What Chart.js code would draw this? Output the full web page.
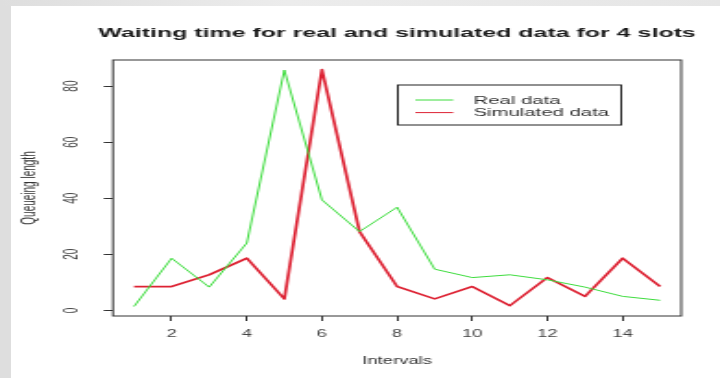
<!DOCTYPE html>
<html>
<head>
<meta charset="utf-8">
<script src="https://cdn.jsdelivr.net/npm/chart.js@4"></script>
<style>
  html, body { margin: 0; background: #fff; overflow: hidden; }
  body { width: 720px; height: 378px; position: relative; }
  #edgeLeft { position: absolute; left: 0; top: 0; width: 11px; height: 378px; background: #dedede; }
  #edgeTop { position: absolute; left: 0; top: 0; width: 720px; height: 6px; background: linear-gradient(90deg, #dedede, #ececec 40%, #e6e6e6); }
  /* the source plot is stretched sideways, so draw narrow and scale it out */
  #wrap { position: absolute; left: 0; top: 0; width: 390px; height: 378px; transform: scaleX(1.84615); transform-origin: 0 0; }
</style>
</head>
<body>
<div id="edgeLeft"></div>
<div id="edgeTop"></div>
<div id="wrap"><canvas id="waitChart" width="390" height="378" style="width:390px;height:378px"></canvas></div>
<script>
// Data
const intervals = [1, 2, 3, 4, 5, 6, 7, 8, 9, 10, 11, 12, 13, 14, 15];
const realData = [1.4, 18.6, 8.3, 24, 85.7, 39.4, 28.1, 36.8, 14.7, 11.7, 12.7, 10.9, 8.3, 5, 3.6];
const simulatedData = [8.5, 8.5, 12.7, 18.6, 4.1, 85.9, 28.1, 8.5, 4.1, 8.5, 1.7, 11.7, 5, 18.6, 8.5];
const xTicks = [2, 4, 6, 8, 10, 12, 14];
const yTicks = [0, 20, 40, 60, 80];

const titleText = 'Waiting time for real and simulated data for 4 slots';
const fontFamily = '"Liberation Sans", Arial, sans-serif';

// Title centred over the plot box, like base R
const titlePlugin = {
    id: 'rTitle',
    afterDraw(chart) {
        const { ctx, chartArea } = chart;
        ctx.save();
        ctx.font = 'bold 13.5px ' + fontFamily;
        ctx.fillStyle = '#1a1a1a';
        ctx.textAlign = 'center';
        ctx.textBaseline = 'middle';
        ctx.fillText(titleText, (chartArea.left + chartArea.right) / 2, 33);
        ctx.restore();
    }
};

// Box round the plot region
const boxPlugin = {
    id: 'rBox',
    afterDatasetsDraw(chart) {
        const { ctx, chartArea } = chart;
        ctx.save();
        ctx.strokeStyle = '#333';
        ctx.lineWidth = 1;
        ctx.strokeRect(chartArea.left, chartArea.top, chartArea.right - chartArea.left, chartArea.bottom - chartArea.top);
        ctx.restore();
    }
};

// Legend box inside the plot, top right
const legendPlugin = {
    id: 'rLegend',
    afterDraw(chart) {
        const { ctx } = chart;
        const left = 215.5, top = 85, width = 121, height = 40;
        ctx.save();
        ctx.strokeStyle = '#222';
        ctx.lineWidth = 1;
        ctx.strokeRect(left, top, width, height);
        ctx.font = '11px ' + fontFamily;
        ctx.textBaseline = 'middle';
        ctx.textAlign = 'left';
        chart.data.datasets.forEach((ds, i) => {
            const y = 100 + i * 12.6;
            ctx.strokeStyle = ds.borderColor;
            ctx.lineWidth = 1;
            ctx.beginPath();
            ctx.moveTo(225, y);
            ctx.lineTo(245.5, y);
            ctx.stroke();
            ctx.fillStyle = '#333';
            ctx.fillText(ds.label, 256.5, y + 0.5);
        });
        ctx.restore();
    }
};

const ctx = document.getElementById('waitChart').getContext('2d');
new Chart(ctx, {
    type: 'line',
    data: {
        datasets: [{
            label: 'Real data',
            data: intervals.map((x, i) => ({ x: x, y: realData[i] })),
            borderColor: '#3ddc3d',
            borderWidth: 1,
            borderJoinStyle: 'round',
            pointRadius: 0,
            tension: 0
        }, {
            label: 'Simulated data',
            data: intervals.map((x, i) => ({ x: x, y: simulatedData[i] })),
            borderColor: '#dd2233',
            borderWidth: 1.7,
            borderJoinStyle: 'round',
            pointRadius: 0,
            tension: 0
        }]
    },
    options: {
        responsive: false,
        animation: false,
        devicePixelRatio: 1,
        layout: { padding: { left: 0, right: 21, top: 60, bottom: 0 } },
        plugins: {
            legend: { display: false },
            tooltip: { enabled: false },
            title: { display: false }
        },
        scales: {
            x: {
                type: 'linear',
                min: 0.44,
                max: 15.56,
                afterBuildTicks: scale => { scale.ticks = xTicks.map(v => ({ value: v })); },
                afterFit: scale => { scale.height = 62; },
                grid: { drawOnChartArea: false, drawTicks: true, tickLength: 5, color: '#333' },
                border: { display: false },
                ticks: {
                    color: '#444',
                    padding: 7,
                    maxRotation: 0,
                    font: { family: fontFamily, size: 10 }
                },
                title: {
                    display: true,
                    text: 'Intervals',
                    color: '#333',
                    padding: { top: 0, bottom: 11 },
                    font: { family: fontFamily, size: 10 }
                }
            },
            y: {
                min: -2,
                max: 89.3,
                afterBuildTicks: scale => { scale.ticks = yTicks.map(v => ({ value: v })); },
                afterFit: scale => { scale.width = 61.2; },
                grid: { drawOnChartArea: false, drawTicks: true, tickLength: 5, color: '#333' },
                border: { display: false },
                ticks: {
                    color: '#444',
                    padding: 11,
                    minRotation: 90,
                    maxRotation: 90,
                    crossAlign: 'center',
                    font: { family: fontFamily, size: 10 }
                },
                title: {
                    display: true,
                    text: 'Queueing length',
                    color: '#333',
                    padding: { top: 10, bottom: 0 },
                    font: { family: fontFamily, size: 10 }
                }
            }
        }
    },
    plugins: [titlePlugin, boxPlugin, legendPlugin]
});
</script>
</body>
</html>
